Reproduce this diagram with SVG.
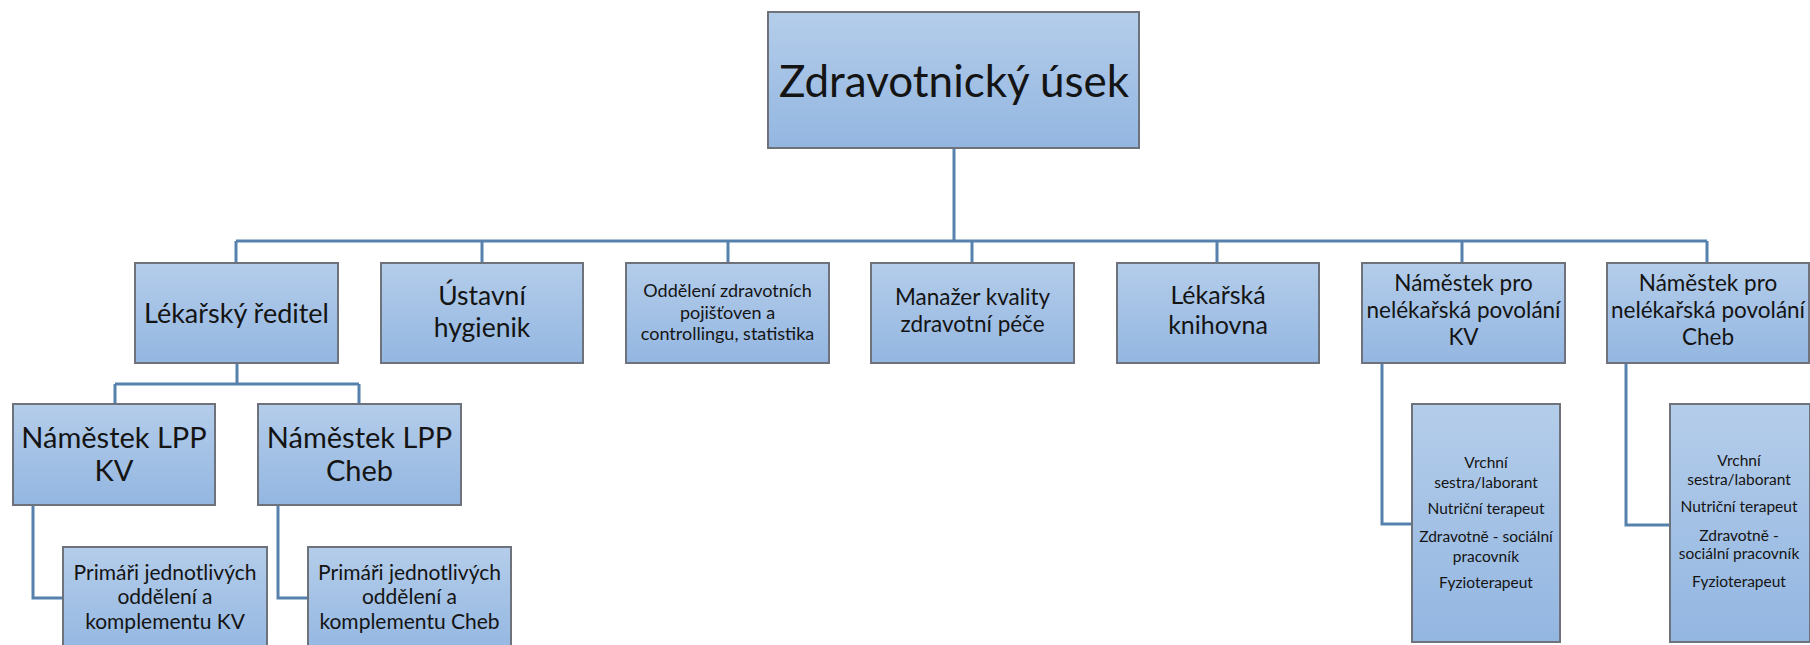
<svg xmlns="http://www.w3.org/2000/svg" width="1810" height="645" viewBox="0 0 1810 645">
<defs>
<linearGradient id="g" x1="0" y1="0" x2="0" y2="1">
<stop offset="0" stop-color="#b4cdea"/>
<stop offset="1" stop-color="#93b6e1"/>
</linearGradient>
<style>
.box{fill:url(#g);stroke:#6e737b;stroke-width:2}
.c{fill:none;stroke:#5781ad;stroke-width:3}
text{font-family:Lato,"Liberation Sans",sans-serif;fill:#141414;text-anchor:middle}
</style>
</defs>
<rect width="1810" height="645" fill="#ffffff"/>
<g id="connectors">
<path class="c" d="M954 148V241M236 241H1707M236 241V263M482 241V263M728 241V263M972 241V263M1217 241V263M1462 241V263M1707 241V263"/>
<path class="c" d="M237 363V384M115 384H359M115 384V404M359 384V404"/>
<path class="c" d="M33 505V598H63M278 505V598H308"/>
<path class="c" d="M1382 363V524H1412M1626 363V525H1670"/>
</g>
<g id="n-top"><rect class="box" x="768" y="12" width="371" height="136"/><text x="954" y="97" font-size="44">Zdravotnický úsek</text></g>
<g id="n-lr"><rect class="box" x="135" y="263" width="203" height="100"/><text x="236.5" y="323" font-size="27">Lékařský ředitel</text></g>
<g id="n-uh"><rect class="box" x="381" y="263" width="202" height="100"/><text x="482" y="305" font-size="26.5">Ústavní</text><text x="482" y="337" font-size="26.5">hygienik</text></g>
<g id="n-oz"><rect class="box" x="626" y="263" width="203" height="100"/><text x="727.5" y="297" font-size="18">Oddělení zdravotních</text><text x="727.5" y="318.5" font-size="18">pojišťoven a</text><text x="727.5" y="340" font-size="18">controllingu, statistika</text></g>
<g id="n-mk"><rect class="box" x="871" y="263" width="203" height="100"/><text x="972.5" y="305" font-size="22.5">Manažer kvality</text><text x="972.5" y="332" font-size="22.5">zdravotní péče</text></g>
<g id="n-lk"><rect class="box" x="1117" y="263" width="202" height="100"/><text x="1218" y="304" font-size="25">Lékařská</text><text x="1218" y="334" font-size="25">knihovna</text></g>
<g id="n-nkv"><rect class="box" x="1362" y="263" width="203" height="100"/><text x="1463.5" y="291" font-size="22.5">Náměstek pro</text><text x="1463.5" y="318" font-size="22.5">nelékařská povolání</text><text x="1463.5" y="345" font-size="22.5">KV</text></g>
<g id="n-nch"><rect class="box" x="1607" y="263" width="202" height="100"/><text x="1708" y="291" font-size="22.5">Náměstek pro</text><text x="1708" y="318" font-size="22.5">nelékařská povolání</text><text x="1708" y="345" font-size="22.5">Cheb</text></g>
<g id="n-lppkv"><rect class="box" x="13" y="404" width="202" height="101"/><text x="114" y="448" font-size="29">Náměstek LPP</text><text x="114" y="481" font-size="29">KV</text></g>
<g id="n-lppch"><rect class="box" x="258" y="404" width="203" height="101"/><text x="359.5" y="448" font-size="29">Náměstek LPP</text><text x="359.5" y="481" font-size="29">Cheb</text></g>
<g id="n-pkv"><rect class="box" x="63" y="547" width="204" height="110"/><text x="165" y="580" font-size="21">Primáři jednotlivých</text><text x="165" y="604" font-size="21">oddělení a</text><text x="165" y="629" font-size="21">komplementu KV</text></g>
<g id="n-pch"><rect class="box" x="308" y="547" width="203" height="110"/><text x="409.5" y="580" font-size="21">Primáři jednotlivých</text><text x="409.5" y="604" font-size="21">oddělení a</text><text x="409.5" y="629" font-size="21">komplementu Cheb</text></g>
<g id="n-skv"><rect class="box" x="1412" y="404" width="148" height="238"/><text x="1486" y="468" font-size="15.5">Vrchní</text><text x="1486" y="488" font-size="15.5">sestra/laborant</text><text x="1486" y="514" font-size="15.5">Nutriční terapeut</text><text x="1486" y="542" font-size="15.5">Zdravotně - sociální</text><text x="1486" y="562" font-size="15.5">pracovník</text><text x="1486" y="588" font-size="15.5">Fyzioterapeut</text></g>
<g id="n-sch"><rect class="box" x="1670" y="404" width="140" height="238"/><text x="1739" y="466" font-size="15.5">Vrchní</text><text x="1739" y="485" font-size="15.5">sestra/laborant</text><text x="1739" y="512" font-size="15.5">Nutriční terapeut</text><text x="1739" y="541" font-size="15.5">Zdravotně -</text><text x="1739" y="559" font-size="15.5">sociální pracovník</text><text x="1739" y="587" font-size="15.5">Fyzioterapeut</text></g>
</svg>
